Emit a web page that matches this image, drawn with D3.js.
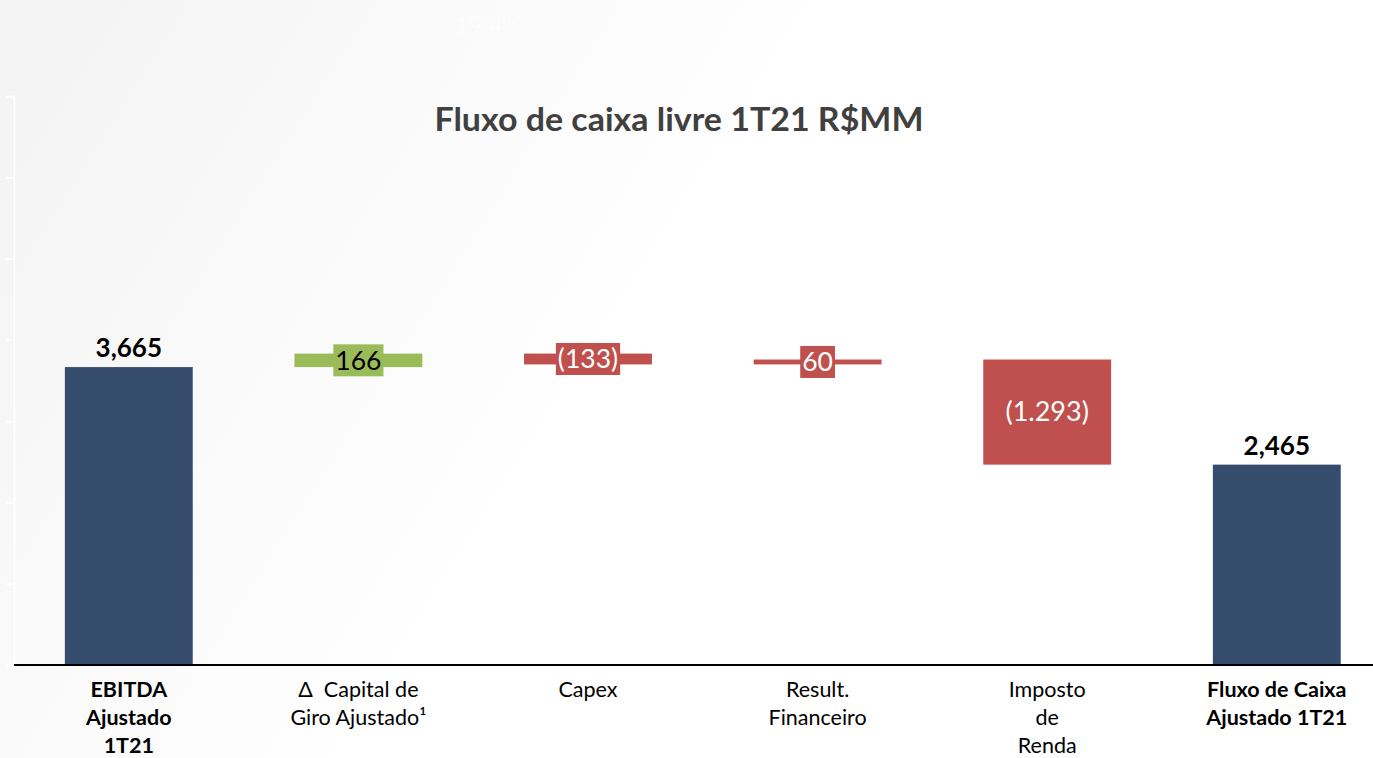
<!DOCTYPE html>
<html><head><meta charset="utf-8">
<script src="https://cdn.jsdelivr.net/npm/d3@7"></script>
<style>
html,body{margin:0;padding:0;}
svg{display:block;font-family:Lato,"Noto Sans",sans-serif;}
text{white-space:pre;}
</style></head>
<body>
<svg id="chart" width="1373" height="758"></svg>
<script>
const categories = ["EBITDA Ajustado 1T21","Δ Capital de Giro Ajustado¹","Capex","Result. Financeiro","Imposto de Renda","Fluxo de Caixa Ajustado 1T21"];
const categoryLines = [["EBITDA","Ajustado","1T21"],["Δ  Capital de","Giro Ajustado¹"],["Capex"],["Result.","Financeiro"],["Imposto","de","Renda"],["Fluxo de Caixa","Ajustado 1T21"]];
const boldCategory = [true,false,false,false,false,true];
const kinds = ["total","delta","delta","delta","delta","total"];
const values = [3665, 166, -133, 60, -1293, 2465];
const valueLabels = ["3,665","166","(133)","60","(1.293)","2,465"];
const barColors = ["#364c6c","#9bbb59","#c0504d","#c0504d","#c0504d","#364c6c"];
const labelColors = ["#000","#000","#fff","#fff","#fff","#000"];
const yTicks = [0,1000,2000,3000,4000,5000,6000,7000];

const svg = d3.select("#chart");
const W = 1373, H = 758;

const defs = svg.append("defs");
const g = defs.append("linearGradient").attr("id","bg").attr("x1","0").attr("y1","0").attr("x2","1").attr("y2","0.35");
g.append("stop").attr("offset","0").attr("stop-color","#f3f3f3");
g.append("stop").attr("offset","0.55").attr("stop-color","#ffffff");
g.append("stop").attr("offset","1").attr("stop-color","#ffffff");
svg.append("rect").attr("width",W).attr("height",H).attr("fill","url(#bg)");

svg.append("text").attr("x",488).attr("y",34).attr("text-anchor","middle")
  .attr("font-size",24).attr("fill","#ffffff").attr("font-weight",300).text("19.4%");

svg.append("text").attr("x",679).attr("y",131).attr("text-anchor","middle")
  .attr("font-size",32).attr("font-weight","bold").attr("fill","#404040")
  .attr("textLength",489).attr("lengthAdjust","spacingAndGlyphs")
  .text("Fluxo de caixa livre 1T21 R$MM");

const x = d3.scaleBand().domain(categories).range([14, 1391.6]).paddingInner(0.443).paddingOuter(0.2215);
const y = d3.scaleLinear().domain([0,7000]).range([665, 96]);

const yAxis = svg.append("g").attr("transform","translate(14,0)")
  .call(d3.axisLeft(y).tickValues(yTicks).tickSize(8).tickFormat(""));
yAxis.selectAll("path,line").attr("stroke","#ffffff").attr("stroke-width",1.5);

let run = 0;
const bars = values.map((v,i)=>{
  let lo, hi;
  if (kinds[i]==="total"){ lo=0; hi=v; run=v; }
  else { const s=run; run=run+v; lo=Math.min(s,run); hi=Math.max(s,run); }
  return {cat:categories[i], lo, hi, i};
});

svg.append("g").selectAll("rect").data(bars).join("rect")
  .attr("x",d=>x(d.cat)).attr("width",x.bandwidth())
  .attr("y",d=>y(d.hi)).attr("height",d=>y(d.lo)-y(d.hi))
  .attr("fill",d=>barColors[d.i]);

const xAxis = svg.append("g").attr("transform","translate(0,665)")
  .call(d3.axisBottom(x).tickSize(0).tickFormat(""));
xAxis.select("path").attr("d","M14,0H1373").attr("stroke","#000").attr("stroke-width",2);

bars.forEach(d=>{
  const cx = x(d.cat)+x.bandwidth()/2;
  if (kinds[d.i]==="total"){
    svg.append("text").attr("x",cx).attr("y",y(d.hi)-10).attr("text-anchor","middle")
      .attr("font-size",26).attr("font-weight","bold").attr("fill","#000").text(valueLabels[d.i]);
  } else if (y(d.lo)-y(d.hi) > 40){
    svg.append("text").attr("x",cx).attr("y",(y(d.lo)+y(d.hi))/2+9).attr("text-anchor","middle")
      .attr("font-size",27).attr("fill",labelColors[d.i]).text(valueLabels[d.i]);
  } else {
    const cy = (y(d.lo)+y(d.hi))/2;
    const t = svg.append("text").attr("x",cx).attr("y",cy+9.5).attr("text-anchor","middle")
      .attr("font-size",26.5).attr("fill",labelColors[d.i]).text(valueLabels[d.i]);
    const bb = t.node().getBBox();
    svg.insert("rect", () => t.node()).attr("x",bb.x-2).attr("width",bb.width+4)
      .attr("y",cy-16).attr("height",32).attr("fill",barColors[d.i]);
  }
});

categoryLines.forEach((lines,i)=>{
  const cx = x(categories[i])+x.bandwidth()/2;
  const t = svg.append("text").attr("x",cx).attr("y",697).attr("text-anchor","middle")
    .attr("font-size",21.5).attr("fill","#000").attr("font-weight",boldCategory[i]?"bold":"normal");
  lines.forEach((ln,j)=>{
    t.append("tspan").attr("x",cx).attr("dy",j===0?0:28).text(ln);
  });
});
</script>
</body></html>
